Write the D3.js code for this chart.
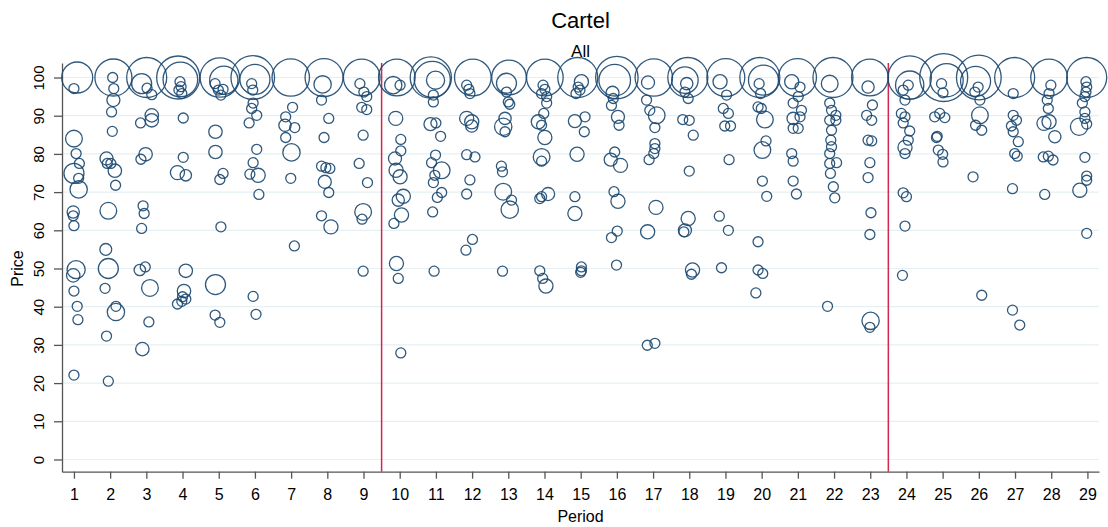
<!DOCTYPE html>
<html>
<head>
<meta charset="utf-8">
<script src="https://cdn.jsdelivr.net/npm/d3@7"></script>
<style>
  body { margin: 0; background: #fff; }
  text { font-family: "Liberation Sans", Arial, sans-serif; }
</style>
</head>
<body>
<div id="chart"></div>
<script>
// axis ticks
var periods = d3.range(1, 30);
var priceTicks = d3.range(0, 101, 10);
// phase breaks (red lines)
var phaseBreaks = [9.5, 23.5];

// observations: [period (jittered), price, weight]
var obs = [
  // 1
  [1.09,100,9.6],[1.00,97.1,1],[1.00,84,2.8],[1.06,80.1,1],[1.15,77.5,1],[1.00,74.9,4],[1.13,73.6,1],
  [1.13,70.7,3],[0.98,64.8,1.5],[0.98,63.8,1],[1.00,61.2,1],[1.06,49.7,3.3],[0.98,48.2,1.8],[1.00,44.1,1],
  [1.09,40.1,1],[1.11,36.6,1],[1.00,22.1,1],
  // 2
  [2.09,100,13.7],[2.07,100,1],[2.10,97.1,1],[2.09,94.1,1.7],[2.04,91.0,1],[2.06,85.9,1],[1.90,78.8,1.7],
  [1.92,77.5,1],[2.02,77.5,1],[2.13,75.6,1.8],[2.15,71.8,1],[1.95,65.1,2.8],[1.88,55,1.4],[1.95,50,4],
  [1.86,44.8,1],[2.16,40.1,1],[2.16,38.6,3],[1.90,32.3,1],[1.95,20.5,1],
  // 3
  [3.01,100,16],[2.87,98.4,4],[3.02,97.2,1],[3.15,95.5,1],[3.15,90.1,1.8],[3.15,88.8,1.8],[2.84,88.1,1],
  [2.98,79.9,1.8],[2.85,78.6,1],[2.91,66.4,1],[2.94,64.4,1],[2.87,60.5,1],[2.82,49.6,1.3],[2.97,50.4,1],
  [3.10,44.9,2.8],[3.07,36.0,1],[2.89,28.9,1.8],
  // 4
  [3.88,100,18.5],[3.94,99.5,12],[3.93,98.9,1],[3.96,97.6,1],[3.90,96.7,1],[3.98,95.8,1],[4.02,89.4,1],
  [4.02,79.1,1],[3.86,75.1,2],[4.09,74.4,1.3],[4.09,49.4,1.8],[4.04,44.1,1.8],[4.00,42.6,1],[3.98,41.4,1],
  [4.09,42.0,1],[3.86,40.7,1],
  // 5
  [5.03,100,15.5],[5.14,99.3,8],[4.90,98.4,1],[4.99,96.7,1],[5.12,96.9,1],[5.06,95.4,1],[4.91,85.8,1.8],
  [4.91,80.5,1.8],[5.12,74.9,1],[5.03,73.3,1],[5.06,60.9,1],[4.91,45.8,4],[4.90,37.8,1],[5.03,35.9,1],
  // 6
  [5.94,100,19],[6.00,99.5,9],[5.91,98.4,1],[5.94,96.7,1],[5.95,93.3,1],[5.91,91.9,1],[6.05,90.1,1],
  [5.84,88.1,1],[6.05,81.2,1],[5.95,77.7,1],[5.86,74.7,1],[6.09,74.4,2],[6.11,69.4,1],[5.95,42.7,1],[6.03,38.0,1],
  // 7
  [6.99,100,14],[7.04,92.2,1],[6.85,89.7,1],[6.83,87.5,1.5],[7.10,86.9,1],[6.85,84.3,1],[7.01,80.4,3],
  [6.99,73.6,1],[7.09,55.9,1],
  // 8
  [7.91,100,14.4],[7.87,98.2,3],[7.84,94.1,1],[8.04,89.3,1],[7.91,84.3,1],[7.84,76.8,1],[7.96,76.4,1],
  [8.07,76.2,1],[7.93,72.7,1.7],[8.04,69.9,1],[7.84,63.8,1],[8.10,60.9,2],
  // 9
  [8.95,100,13.4],[8.90,98.4,1],[9.01,96.2,1],[9.09,95.0,1],[8.95,92.2,1],[9.09,91.6,1],[8.99,84.9,1],
  [8.88,77.5,1],[9.11,72.5,1],[8.99,64.8,2.8],[8.96,62.9,1],[8.99,49.3,1],
  // 10
  [9.92,100,13.4],[9.82,98,3],[10.01,98,1],[9.89,89.3,2],[10.03,83.8,1],[10.03,80.8,1],[9.87,78.8,1.7],
  [9.90,75.7,2],[10.01,74,2],[10.10,68.9,2],[9.96,67.9,1.5],[10.05,64,2],[9.84,61.8,1],[9.91,51.3,2],
  [9.96,47.4,1],[10.03,27.9,1],
  // 11
  [10.86,100,17],[10.90,99.5,13],[10.99,99.3,3.3],[10.93,95.4,1],[10.93,93.6,1],[10.85,87.8,1.7],[11.00,88.1,1],
  [11.13,84.6,1],[10.99,79.7,1],[10.88,77.7,1],[11.16,75.7,2.8],[10.97,74.4,1],[10.93,72.5,1],[11.16,69.9,1],
  [11.04,68.6,1],[10.91,64.8,1],[10.95,49.3,1],
  // 12
  [12.02,100,13.4],[11.85,98,1],[11.91,96.9,1],[11.94,95.8,1],[11.85,89.3,2],[11.99,88.4,2],[11.99,87.3,1.5],
  [11.85,79.8,1],[12.08,79.2,1],[11.94,73.2,1],[11.85,69.5,1],[12.01,57.6,1],[11.83,54.8,1],
  // 13
  [13.02,100,12],[12.95,98.5,4],[12.95,96.2,1],[13.00,93.6,1],[13.04,93.0,1],[12.91,89.3,1.5],[12.86,87.1,3],
  [12.91,85.8,1],[12.81,76.8,1],[12.84,75.3,1],[12.86,70.1,2.8],[13.09,67.9,1],[13.04,65.4,3],[12.84,49.3,1],
  // 14
  [14.01,100,13.4],[13.96,98,1],[14.01,96.9,1],[13.92,95.8,1],[14.06,95.0,1],[14.06,93.3,1],[13.98,90.6,1],
  [13.83,88.4,2],[13.92,87.5,1],[14.01,84.3,2],[13.92,79.2,2.8],[13.92,78.1,1],[14.10,69.5,1.7],[13.92,68.8,1],
  [13.87,68.3,1],[13.87,49.4,1],[13.95,47.4,1],[14.04,45.4,2],
  // 15
  [14.92,100,16],[15.02,98.9,2],[14.93,97.5,1],[14.98,96.7,1],[14.87,95.8,1],[15.12,89.7,1],[14.84,88.6,1.7],
  [15.10,85.8,1],[14.90,79.9,2],[14.84,68.8,1],[14.84,64.4,2],[15.02,50.4,1],[15.02,49.4,1],[15.00,49.0,1],
  // 16
  [16.0,100,18],[15.94,99.3,10],[15.88,96.0,1.7],[15.90,94.5,1],[15.85,92.7,1],[16.03,89.7,1.7],[16.06,87.5,1],
  [15.94,80.5,1],[15.83,78.5,1.7],[16.10,77.0,2],[15.92,70.1,1],[16.03,67.6,2],[16.01,59.8,1],[15.85,58.1,1],
  [15.99,50.9,1],
  // 17
  [17.02,100,14],[16.86,98.7,1.7],[16.82,94.1,1],[16.91,91.4,1],[17.10,90.1,2.8],[17.05,86.9,1],[17.05,82.7,1],
  [17.05,81.4,1],[17.02,80.1,1],[16.89,78.5,1],[17.08,66.0,2],[16.85,59.6,2],[16.84,29.9,1],[17.05,30.4,1],
  // 18
  [17.96,100,16],[17.88,99.3,7],[17.93,98.4,1.5],[17.88,96.2,1],[17.97,94.5,1],[17.82,89.0,1],[18.00,88.8,1],
  [18.11,84.9,1],[18.00,75.5,1],[17.97,63.1,2],[17.88,60.0,1.7],[17.85,59.6,1],[18.09,49.6,2],[18.06,48.5,1],
  // 19
  [19.01,100,14.4],[18.85,98.9,2],[19.03,95.4,1],[18.94,91.9,1],[19.08,90.6,1],[18.98,87.3,1],[19.14,87.3,1],
  [19.10,78.5,1],[18.83,63.7,1],[19.08,60.0,1],[18.89,50.2,1],
  // 20
  [19.95,100,16],[20.05,99.3,9],[19.93,98.4,1],[19.97,95.8,1],[19.90,92.3,1],[19.99,91.9,1],[20.09,89.0,2.8],
  [20.12,83.4,1],[20.02,81.0,2.8],[20.02,72.9,1],[20.14,68.9,1],[19.90,57.0,1],[19.90,49.6,1],[20.03,48.7,1],
  [19.84,43.6,1],
  // 21
  [20.99,100,14.4],[20.83,98.9,2],[21.06,97.5,1],[21.01,95.0,1],[20.87,93.3,1],[21.10,91.4,1],[20.87,89.3,1.5],
  [21.06,89.7,1],[20.87,86.7,1],[21.01,86.7,1],[20.83,80.1,1],[20.87,78.1,1],[20.87,72.9,1],[20.96,69.5,1],
  // 22
  [21.97,100,16],[21.88,98.4,2.8],[21.88,93.3,1],[21.93,91.4,1],[22.05,90.1,1],[21.88,88.8,1],[22.05,88.8,1],
  [21.93,86.2,1],[21.91,83.6,1],[21.93,81.9,1],[21.88,80.1,1],[22.07,77.7,1],[21.88,77.5,1],[21.90,74.9,1],
  [21.98,71.4,1],[22.02,68.5,1],[21.82,40.1,1],
  // 23
  [22.99,100,13.4],[22.94,97.5,1.5],[23.06,92.8,1],[22.90,90.1,1],[23.04,88.8,1],[22.94,83.6,1],[23.04,83.4,1],
  [22.99,77.7,1],[22.94,73.8,1],[23.02,64.6,1],[22.99,58.9,1],[23.01,36.3,3],[22.99,34.6,1],
  // 24
  [24.09,100,18.8],[24.09,98,8],[24.05,98,1],[23.91,96.7,1],[23.96,94.1,1],[23.86,90.6,1],[23.96,89.7,1],
  [23.91,88.1,1],[24.09,86.0,1],[24.05,83.6,1],[23.96,81.7,2],[23.96,80.1,1],[23.91,69.8,1],[24.00,68.8,1],
  [23.96,61.1,1],[23.89,48.2,1],
  // 25
  [25.03,100,23],[25.11,99.3,11],[24.97,98.4,1],[25.01,96.0,1],[24.92,90.6,1],[24.78,89.7,1],[25.06,89.5,1],
  [24.85,84.6,1],[24.83,84.3,1],[24.88,81.0,1],[25.00,79.9,1],[25.01,77.9,1],
  // 26
  [26.00,100,20],[25.91,99,9],[25.98,97.5,1],[25.89,96.2,1],[26.03,94.1,1],[26.03,90.1,2.8],[25.91,87.5,1],
  [26.08,86.2,1],[25.84,74.0,1],[26.08,43.0,1],
  // 27
  [26.99,100,16],[26.95,95.8,1],[26.95,90.1,1],[27.04,88.8,1],[26.90,87.3,1],[26.95,85.8,1],[27.09,83.2,1],
  [26.99,80.1,1],[27.06,79.4,1],[26.93,70.9,1],[26.93,39.1,1],[27.13,35.2,1],
  // 28
  [27.94,100,13.4],[27.99,98,1],[27.94,95.8,1],[27.89,94.1,1],[27.92,91.9,1],[27.80,88.0,2],[27.94,88.4,2],
  [28.10,84.5,1.5],[27.78,79.2,1],[27.92,79.4,1],[28.05,78.4,1],[27.82,69.4,1],
  // 29
  [28.98,100,16],[28.96,98.9,1],[28.98,97.5,1],[28.96,96.2,1],[28.93,95.0,1],[28.86,93.3,1],[28.93,91.0,1],
  [28.93,89.3,1],[28.77,87.1,3],[28.98,87.8,1],[28.93,79.1,1],[28.98,74.2,1],[28.98,73.1,1],[28.79,70.5,2],
  [28.98,59.2,1]
];

var width = 1108, height = 527;
var navy = "#1a476f";

var svg = d3.select("#chart").append("svg")
    .attr("width", width)
    .attr("height", height);

// scales
var x = d3.scaleLinear().domain([0.67, 29.32]).range([62, 1099]);
var y = d3.scaleLinear().domain([-3.2, 103.8]).range([471.7, 63]);
var r = d3.scaleSqrt().domain([0, 25]).range([0, 25]);

// grid lines
svg.append("g")
    .selectAll("line")
    .data(priceTicks)
    .enter().append("line")
    .attr("x1", x.range()[0]).attr("x2", x.range()[1])
    .attr("y1", function(d){ return y(d); })
    .attr("y2", function(d){ return y(d); })
    .attr("stroke", "#e6eff1")
    .attr("stroke-width", 1.2);

// y axis
var yAxis = svg.append("g")
    .attr("transform", "translate(62,0)")
    .call(d3.axisLeft(y).tickValues(priceTicks).tickSize(8).tickSizeOuter(0));
yAxis.selectAll("text")
    .attr("x", 0).attr("y", -18).attr("dy", 0)
    .attr("text-anchor", "middle")
    .attr("transform", "rotate(-90)")
    .style("font-size", "15px")
    .attr("fill", "#000");

// x axis
var xAxis = svg.append("g")
    .attr("transform", "translate(0," + y.range()[0] + ")")
    .call(d3.axisBottom(x).tickValues(periods).tickSize(7).tickSizeOuter(0).tickPadding(10));
xAxis.selectAll("text")
    .style("font-size", "16px")
    .attr("fill", "#000");

svg.selectAll(".domain, .tick line")
    .attr("stroke", "#555")
    .attr("stroke-width", 1.3);

// phase break lines
svg.append("g")
    .selectAll("line")
    .data(phaseBreaks)
    .enter().append("line")
    .attr("x1", function(d){ return x(d); })
    .attr("x2", function(d){ return x(d); })
    .attr("y1", y.range()[1])
    .attr("y2", y.range()[0])
    .attr("stroke", "#d2274f")
    .attr("stroke-width", 1.5);

// bubbles
svg.append("g")
    .selectAll("circle")
    .data(obs)
    .enter().append("circle")
    .attr("cx", function(d){ return x(d[0]); })
    .attr("cy", function(d){ return y(d[1]); })
    .attr("r", function(d){ return r(d[2]); })
    .attr("fill", "none")
    .attr("stroke", navy)
    .attr("stroke-width", 1.3)
    .attr("stroke-opacity", 0.9);

// titles
var midX = (x.range()[0] + x.range()[1]) / 2;
svg.append("text")
    .attr("x", midX).attr("y", 28)
    .attr("text-anchor", "middle")
    .style("font-size", "22px")
    .text("Cartel");
svg.append("text")
    .attr("x", midX).attr("y", 57)
    .attr("text-anchor", "middle")
    .style("font-size", "17px")
    .text("All");
svg.append("text")
    .attr("x", midX).attr("y", 522)
    .attr("text-anchor", "middle")
    .style("font-size", "16px")
    .text("Period");
svg.append("text")
    .attr("transform", "translate(23," + y(50) + ") rotate(-90)")
    .attr("text-anchor", "middle")
    .style("font-size", "16px")
    .text("Price");
</script>
</body>
</html>
